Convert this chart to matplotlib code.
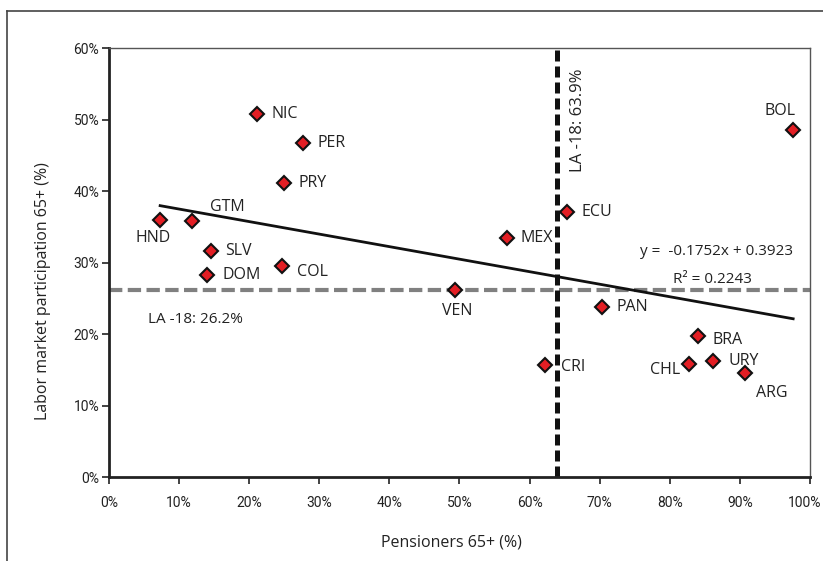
import numpy as np
import matplotlib.pyplot as plt
from matplotlib.lines import Line2D
from matplotlib.ticker import PercentFormatter
from matplotlib.transforms import ScaledTranslation

plt.rcParams['font.family'] = ['Open Sans', 'DejaVu Sans']

# data (share, 0-1)
countries = ['NIC', 'PER', 'PRY', 'HND', 'GTM', 'SLV', 'COL', 'DOM', 'VEN',
             'MEX', 'ECU', 'BOL', 'PAN', 'BRA', 'CRI', 'CHL', 'URY', 'ARG']
pensioners = [0.211, 0.277, 0.249, 0.073, 0.118, 0.145, 0.247, 0.140, 0.494,
              0.568, 0.653, 0.976, 0.703, 0.840, 0.622, 0.827, 0.862, 0.907]
participation = [0.508, 0.467, 0.411, 0.359, 0.358, 0.316, 0.295, 0.282, 0.262,
                 0.334, 0.371, 0.485, 0.238, 0.197, 0.157, 0.158, 0.162, 0.145]

slope = -0.1752
intercept = 0.3923
r2 = 0.2243
avg_pensioners = 0.639
avg_participation = 0.262

# label offsets in pixels (dx, dy, ha)
offsets = {
    'NIC': (15, 0, 'left'), 'PER': (14, 0, 'left'), 'PRY': (15, 0, 'left'),
    'HND': (-7, -18, 'center'), 'GTM': (36, 14, 'center'), 'SLV': (15, 0, 'left'),
    'COL': (15, -6, 'left'), 'DOM': (15, 0, 'left'), 'VEN': (2, -21, 'center'),
    'MEX': (13, 0, 'left'), 'ECU': (15, 0, 'left'), 'BOL': (-13, 19, 'center'),
    'PAN': (15, 0, 'left'), 'BRA': (15, -4, 'left'), 'CRI': (16, -2, 'left'),
    'CHL': (-9, -6, 'right'), 'URY': (15, 0, 'left'), 'ARG': (27, -20, 'center'),
}

fig = plt.figure(figsize=(8.23, 5.61), dpi=100)
ax = fig.add_axes([0.1324, 0.1497, 0.8518, 0.7647])

ax.axhline(avg_participation, color='#808080', lw=3, dashes=(3.2, 1.3), zorder=1)
ax.axvline(avg_pensioners, color='#111111', lw=3.6, dashes=(2.2, 1.0), zorder=1)

xs = np.array([min(pensioners), max(pensioners)])
ax.plot(xs, slope * xs + intercept, color='#111111', lw=2, zorder=2)

ax.plot(pensioners, participation, 'D', ms=7, mfc='#e31e24', mec='#111111',
        mew=1.5, zorder=3, clip_on=False)

for c, x, y in zip(countries, pensioners, participation):
    dx, dy, ha = offsets[c]
    ax.annotate(c, (x, y), xytext=(dx, dy), textcoords='offset pixels',
                ha=ha, va='center', fontsize=11.5, color='#222222')

ax.text(avg_pensioners + 0.019, 0.572, 'LA -18: 63.9%', rotation=90,
        ha='left', va='top', fontsize=12, color='#222222')
ax.text(0.056, 0.22, 'LA -18: 26.2%', ha='left', va='center',
        fontsize=11, color='#222222')
ax.text(0.976, 0.316, 'y =  -0.1752x + 0.3923', ha='right', va='center',
        fontsize=11, color='#222222')
ax.text(0.917, 0.276, 'R² = %.4f' % r2, ha='right', va='center',
        fontsize=11, color='#222222')

ax.set_xlim(0, 1)
ax.set_ylim(0, 0.6)
ax.set_xticks(np.arange(0, 1.01, 0.1))
ax.set_yticks(np.arange(0, 0.61, 0.1))
ax.xaxis.set_major_formatter(PercentFormatter(1, decimals=0))
ax.yaxis.set_major_formatter(PercentFormatter(1, decimals=0))
ax.tick_params(axis='both', direction='out', length=5, width=1.2,
               labelsize=10, colors='#222222')
ax.tick_params(axis='x', pad=9)
ax.tick_params(axis='y', pad=2)

for s in ['left', 'bottom']:
    ax.spines[s].set_linewidth(2)
    ax.spines[s].set_color('#222222')
for s in ['top', 'right']:
    ax.spines[s].set_linewidth(1)
    ax.spines[s].set_color('#555555')

ax.set_xlabel('Pensioners 65+ (%)', fontsize=11.5, color='#222222')
ax.set_ylabel('Labor market participation 65+ (%)', fontsize=11.5,
              color='#222222')
ax.xaxis.set_label_coords(0.489, -0.135)
ax.yaxis.set_label_coords(-0.083, 0.434)

# tick label font, and nudge "100%" so it stays inside the picture
for lbl in ax.get_xticklabels() + ax.get_yticklabels():
    lbl.set_family(['Roboto', 'DejaVu Sans'])
last = ax.get_xticklabels()[-1]
last.set_transform(last.get_transform()
                   + ScaledTranslation(-5 / 100, 0, fig.dpi_scale_trans))

# outer frame (cropped at right and bottom)
fig.add_artist(Line2D([7 / 823, 7 / 823], [0, 1 - 11 / 561],
                      transform=fig.transFigure, color='#444444', lw=1.2))
fig.add_artist(Line2D([7 / 823, 1], [1 - 11 / 561, 1 - 11 / 561],
                      transform=fig.transFigure, color='#444444', lw=1.2))

fig.savefig('out.png', dpi=100)
